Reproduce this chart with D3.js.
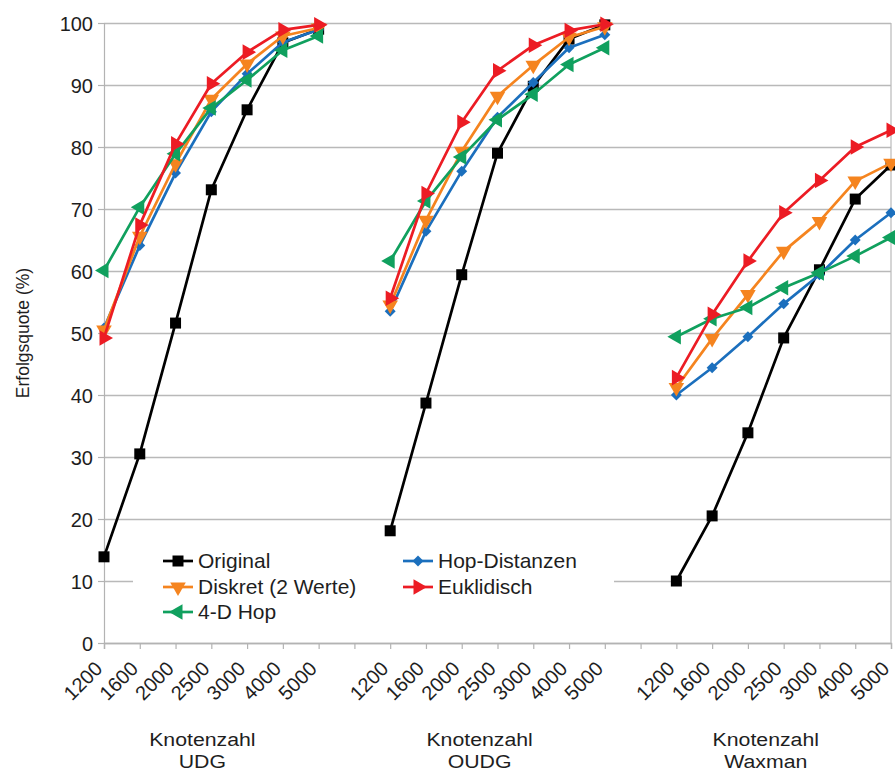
<!DOCTYPE html>
<html>
<head>
<meta charset="utf-8">
<script src="https://cdn.jsdelivr.net/npm/d3@7/dist/d3.min.js"></script>
<style>
  html, body { margin: 0; padding: 0; background: #fff; }
  svg { display: block; }
  text { font-family: "Liberation Sans", Arial, sans-serif; fill: #1e1e1e; }
</style>
</head>
<body>
<svg id="chart" width="895" height="771"></svg>
<script>
// ---------- data ----------
const groups = ["UDG", "OUDG", "Waxman"];
const categories = ["1200", "1600", "2000", "2500", "3000", "4000", "5000"];
const yTicks = [0, 10, 20, 30, 40, 50, 60, 70, 80, 90, 100];
const axisTitleY = "Erfolgsquote (%)";
const axisTitleX = "Knotenzahl";

// values per series: UDG (7), OUDG (7), Waxman (7)
const original     = [13.9, 30.5, 51.6, 73.1, 86.0, 96.8, 99.0,
                      18.1, 38.7, 59.4, 79.0, 89.8, 97.4, 99.7,
                      10.0, 20.5, 33.9, 49.2, 60.2, 71.6, 77.1];
const hopDistanzen = [50.8, 64.1, 75.8, 85.7, 91.8, 96.9, 98.9,
                      53.5, 66.4, 76.1, 84.8, 90.4, 96.0, 98.1,
                      40.0, 44.4, 49.4, 54.7, 59.4, 65.0, 69.4];
const diskret      = [50.5, 65.6, 77.3, 87.7, 93.4, 97.9, 99.2,
                      54.5, 68.2, 79.3, 88.2, 93.2, 97.7, 99.4,
                      41.2, 49.1, 56.2, 63.2, 68.0, 74.5, 77.4];
const euklidisch   = [49.2, 67.4, 80.5, 90.2, 95.3, 98.9, 99.7,
                      55.6, 72.5, 84.0, 92.3, 96.4, 98.8, 99.8,
                      42.8, 53.0, 61.6, 69.4, 74.6, 80.0, 82.7];
const vierDHop     = [60.1, 70.3, 78.9, 86.3, 90.8, 95.6, 97.9,
                      61.6, 71.3, 78.4, 84.4, 88.5, 93.3, 96.0,
                      49.4, 52.3, 54.1, 57.3, 59.7, 62.4, 65.4];

const seriesNames  = ["Original", "Hop-Distanzen", "Diskret (2 Werte)", "Euklidisch", "4-D Hop"];
const seriesValues = [original, hopDistanzen, diskret, euklidisch, vierDHop];
const seriesColors = ["#000000", "#1b6fbd", "#f5841f", "#ec1c24", "#10a05e"];
const seriesShapes = ["square", "diamond", "down", "right", "left"];
// draw order (bottom -> top)
const drawOrder = [0, 1, 2, 4, 3];

// ---------- layout ----------
const svg = d3.select("#chart");
const pLeft = 104, pRight = 891, pTop = 23, pBottom = 643;

// category slots, with one empty slot between groups
const slotKeys = [];
groups.forEach((g, gi) => {
  if (gi > 0) slotKeys.push("gap" + gi);
  categories.forEach(c => slotKeys.push(g + "|" + c));
});

const x = d3.scalePoint().domain(slotKeys).range([pLeft, pRight]).padding(0);
const y = d3.scaleLinear().domain([0, 100]).range([pBottom, pTop]);

// ---------- grid ----------
const grid = svg.append("g")
  .attr("transform", `translate(${pLeft},0)`)
  .call(d3.axisLeft(y).tickValues(yTicks).tickSize(-(pRight - pLeft)).tickFormat(""));
grid.select(".domain").remove();
grid.selectAll("line").attr("stroke", "#b9b9b9").attr("stroke-width", 1.4);

// right border
svg.append("line")
  .attr("x1", pRight).attr("x2", pRight).attr("y1", y(100)).attr("y2", y(0))
  .attr("stroke", "#b9b9b9").attr("stroke-width", 1.2);

// ---------- y axis ----------
const yAxis = svg.append("g")
  .attr("transform", `translate(${pLeft},0)`)
  .call(d3.axisLeft(y).tickValues(yTicks).tickSize(6).tickPadding(5));
yAxis.select(".domain").attr("stroke", "#b3b3b3").attr("stroke-width", 1.2);
yAxis.selectAll("line").attr("stroke", "#b3b3b3").attr("stroke-width", 1.2);
yAxis.selectAll("text")
  .style("font-family", "Liberation Sans, Arial, sans-serif")
  .style("font-size", "20px").attr("fill", "#1e1e1e")
  .attr("dy", "0.36em");

// ---------- x axis ----------
const xAxis = svg.append("g")
  .attr("transform", `translate(0,${pBottom})`)
  .call(d3.axisBottom(x).tickSize(6)
    .tickFormat(k => k.startsWith("gap") ? "" : k.split("|")[1]));
xAxis.select(".domain").attr("stroke", "#b3b3b3").attr("stroke-width", 1.4);
xAxis.selectAll("line").attr("stroke", "#b3b3b3").attr("stroke-width", 1.2);
xAxis.selectAll("text")
  .style("font-family", "Liberation Sans, Arial, sans-serif")
  .style("font-size", "20px").attr("fill", "#1e1e1e")
  .attr("text-anchor", "end")
  .attr("dy", 0).attr("y", 0)
  .attr("transform", "translate(-1,27) rotate(-45)");

// group titles
groups.forEach((g, gi) => {
  const first = x(g + "|" + categories[0]);
  const last = x(g + "|" + categories[categories.length - 1]);
  const step = x.step();
  const cx = gi === 0 ? (first - step * 0.5 + last) / 2 : (first - step + last) / 2;
  const t = svg.append("text")
    .attr("text-anchor", "middle")
    .attr("transform", `translate(${cx},0) scale(1.12,1)`)
    .style("font-size", "19px");
  t.append("tspan").attr("x", 0).attr("y", 746).text(axisTitleX);
  t.append("tspan").attr("x", 0).attr("y", 768).text(g);
});

// y axis title
svg.append("text")
  .attr("transform", `translate(29,333) rotate(-90)`)
  .attr("text-anchor", "middle")
  .style("font-size", "17.5px")
  .text(axisTitleY);

// ---------- markers ----------
function markerPath(shape) {
  if (shape === "square") return d3.symbol(d3.symbolSquare, 121)();
  if (shape === "diamond") return d3.symbol(d3.symbolSquare, 60)();
  return d3.symbol(d3.symbolTriangle, 105)();
}
function markerRotate(shape) {
  return { square: 0, diamond: 45, down: 180, right: 90, left: -90 }[shape];
}

// ---------- series ----------
const lineGen = d3.line().x(d => d.x).y(d => d.y);
drawOrder.forEach(si => {
  const vals = seriesValues[si];
  const gS = svg.append("g");
  groups.forEach((g, gi) => {
    const pts = categories.map((c, ci) => ({
      x: x(g + "|" + c),
      y: y(vals[gi * categories.length + ci])
    }));
    gS.append("path")
      .attr("d", lineGen(pts))
      .attr("fill", "none")
      .attr("stroke", seriesColors[si])
      .attr("stroke-width", 2.7)
      .attr("stroke-linejoin", "round");
    gS.selectAll(null).data(pts).enter().append("path")
      .attr("d", markerPath(seriesShapes[si]))
      .attr("transform", d => `translate(${d.x},${d.y}) rotate(${markerRotate(seriesShapes[si])})`)
      .attr("fill", seriesColors[si]);
  });
});

// ---------- legend ----------
const legend = svg.append("g");
legend.append("rect")
  .attr("x", 133).attr("y", 543).attr("width", 481).attr("height", 85)
  .attr("fill", "#fff");
const legendCols = [163, 403];
const legendRows = [561, 587, 612];
seriesNames.forEach((name, i) => {
  const col = i % 2, row = Math.floor(i / 2);
  const lx = legendCols[col], ly = legendRows[row];
  const item = legend.append("g");
  item.append("line")
    .attr("x1", lx).attr("x2", lx + 30).attr("y1", ly).attr("y2", ly)
    .attr("stroke", seriesColors[i]).attr("stroke-width", 2.7);
  item.append("path")
    .attr("d", markerPath(seriesShapes[i]))
    .attr("transform", `translate(${lx + 15},${ly}) rotate(${markerRotate(seriesShapes[i])})`)
    .attr("fill", seriesColors[i]);
  item.append("text")
    .attr("x", lx + 35).attr("y", ly + 7)
    .style("font-size", "21px")
    .text(name);
});
</script>
</body>
</html>
